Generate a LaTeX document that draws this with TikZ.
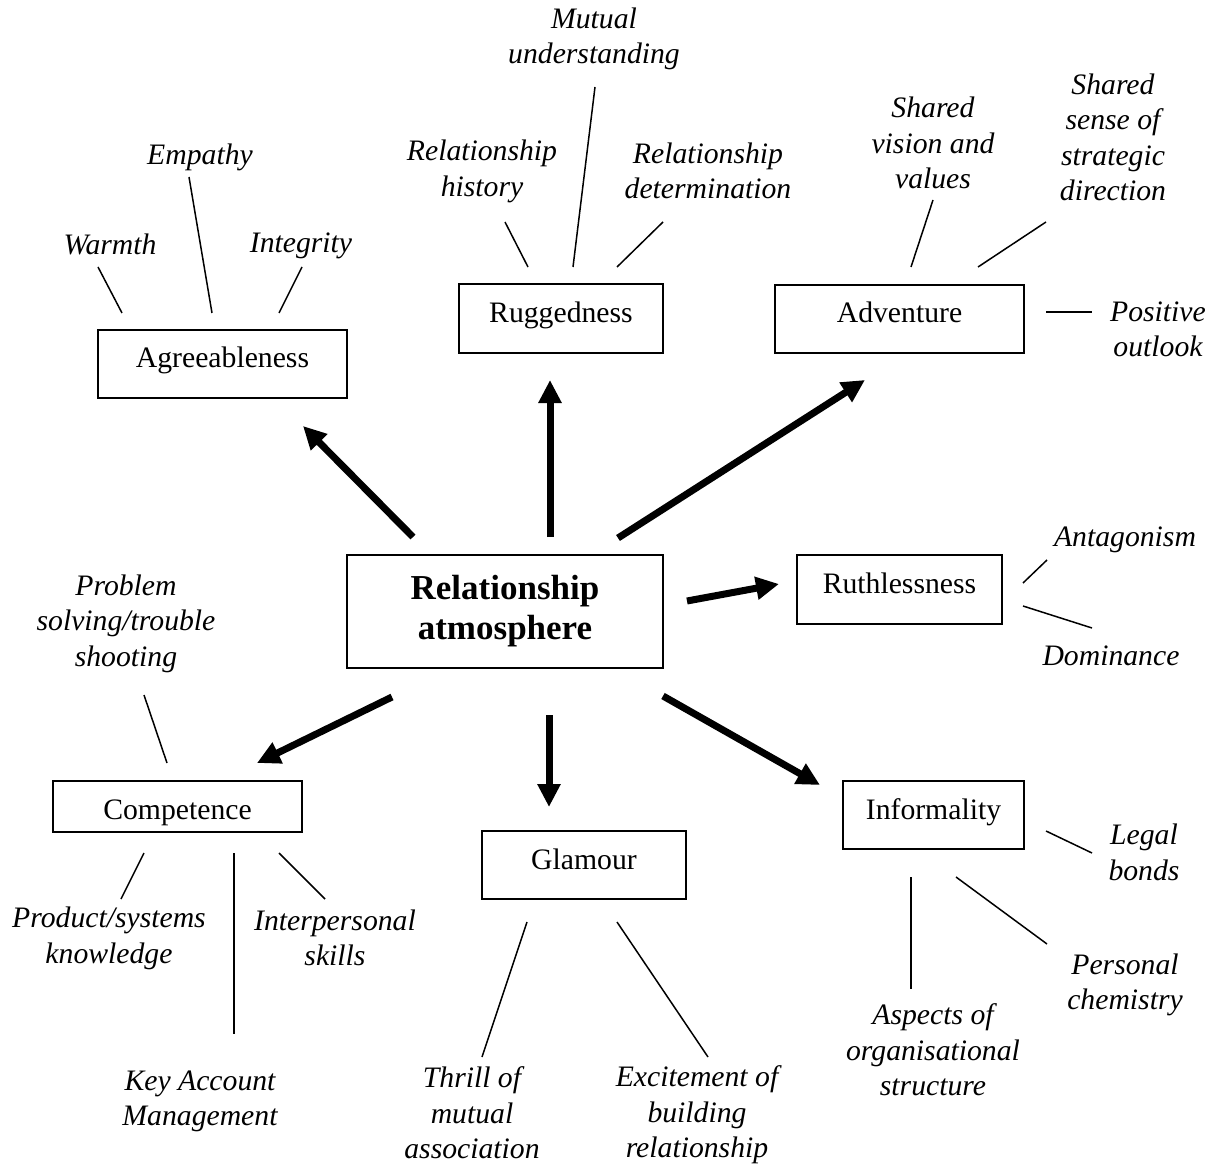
\documentclass[tikz,border=0pt]{standalone}
\usepackage{fontspec}
\setmainfont{Liberation Serif}
\usetikzlibrary{arrows.meta}
\begin{document}
\begin{tikzpicture}[x=1pt,y=-1pt,
  box/.style={draw, line width=1.8pt, inner sep=0pt,
    font=\fontsize{29.7}{35.5}\selectfont, text height=20pt, text depth=12pt},
  core/.style={draw, line width=1.8pt, inner sep=0pt, align=center,
    font=\fontsize{35}{40}\selectfont\bfseries},
  trait/.style={inner sep=0pt, align=center,
    font=\fontsize{29.7}{35.5}\selectfont\itshape},
  leader/.style={line width=1.5pt},
  push/.style={line width=7pt, -{Triangle[length=23pt,width=22pt]}}]
\useasboundingbox (0,0) rectangle (1224,1166);

% ---- dimension boxes ----
\node[core, minimum width=316pt, minimum height=113pt] (core) at (505,611.5) {Relationship\\atmosphere};
\node[box, minimum width=249pt, minimum height=68pt] (agr)  at (222.5,364) {Agreeableness};
\node[box, minimum width=204pt, minimum height=69pt] (rug)  at (561,318.5) {Ruggedness};
\node[box, minimum width=249pt, minimum height=68pt] (adv)  at (899.5,319) {Adventure};
\node[box, minimum width=205pt, minimum height=69pt] (ruth) at (899.5,589.5) {Ruthlessness};
\node[box, minimum width=249pt, minimum height=51pt, text height=25pt, text depth=0pt] (comp) at (177.5,806.5) {Competence};
\node[box, minimum width=204pt, minimum height=68pt] (glam) at (584,865) {Glamour};
\node[box, minimum width=181pt, minimum height=68pt] (inf)  at (933.5,815) {Informality};

% ---- attribute labels ----
\node[trait] (warm) at (110,244) {Warmth};
\node[trait] (emp)  at (200,157.5) {Empathy};
\node[trait] (integ) at (301,245.5) {Integrity};
\node[trait] (mutu) at (594,39) {Mutual\\understanding};
\node[trait] (hist) at (482,171.5) {Relationship\\history};
\node[trait] (deter) at (708,171) {Relationship\\determination};
\node[trait] (vis)  at (933,143) {Shared\\vision and\\values};
\node[trait] (sens) at (1113,137.5) {Shared\\sense of\\strategic\\direction};
\node[trait] (posi) at (1158,329.5) {Positive\\outlook};
\node[trait] (anta) at (1125,540) {Antagonism};
\node[trait] (domi) at (1111,656) {Dominance};
\node[trait] (prob) at (126,623.5) {Problem\\solving/trouble\\shooting};
\node[trait] (prod) at (109,938.5) {Product/systems\\knowledge};
\node[trait] (inter) at (335,938) {Interpersonal\\skills};
\node[trait] (kam)  at (200,1101.5) {Key Account\\Management};
\node[trait] (thri) at (472,1113) {Thrill of\\mutual\\association};
\node[trait] (exci) at (697,1115) {Excitement of\\building\\relationship};
\node[trait] (legal) at (1144,852.5) {Legal\\bonds};
\node[trait] (pers) at (1125,985) {Personal\\chemistry};
\node[trait] (asp)  at (933,1050) {Aspects of\\organisational\\structure};

% ---- arrow ends ----
\coordinate (a-agr0) at (413,537);  \coordinate (a-agr1) at (303,426);
\coordinate (a-rug0) at (550,537);  \coordinate (a-rug1) at (550,380);
\coordinate (a-adv0) at (618,538);  \coordinate (a-adv1) at (865,380);
\coordinate (a-ruth0) at (687,601); \coordinate (a-ruth1) at (779,584);
\coordinate (a-inf0) at (663,696);  \coordinate (a-inf1) at (820,785);
\coordinate (a-glam0) at (549,715); \coordinate (a-glam1) at (549,807);
\coordinate (a-comp0) at (392,697); \coordinate (a-comp1) at (257,763);

\draw[push] (a-agr0) -- (a-agr1);
\draw[push] (a-rug0) -- (a-rug1);
\draw[push] (a-adv0) -- (a-adv1);
\draw[push] (a-ruth0) -- (a-ruth1);
\draw[push] (a-inf0) -- (a-inf1);
\draw[push] (a-glam0) -- (a-glam1);
\draw[push] (a-comp0) -- (a-comp1);

% ---- leader line ends ----
\coordinate (l-warm0) at (98,267);   \coordinate (l-warm1) at (122,313);
\coordinate (l-emp0) at (189,177);   \coordinate (l-emp1) at (212,313);
\coordinate (l-int0) at (302,267);   \coordinate (l-int1) at (279,313);
\coordinate (l-hist0) at (505,222);  \coordinate (l-hist1) at (528,267);
\coordinate (l-mut0) at (595,87);    \coordinate (l-mut1) at (573,267);
\coordinate (l-det0) at (663,222);   \coordinate (l-det1) at (617,267);
\coordinate (l-vis0) at (933,200);   \coordinate (l-vis1) at (911,267);
\coordinate (l-sen0) at (1046,222);  \coordinate (l-sen1) at (978,267);
\coordinate (l-pos0) at (1046,312);  \coordinate (l-pos1) at (1092,312);
\coordinate (l-ant0) at (1047,560);  \coordinate (l-ant1) at (1023,583);
\coordinate (l-dom0) at (1023,606);  \coordinate (l-dom1) at (1092,628);
\coordinate (l-prob0) at (144,695);  \coordinate (l-prob1) at (167,763);
\coordinate (l-prod0) at (144,853);  \coordinate (l-prod1) at (121,899);
\coordinate (l-kam0) at (234,853);   \coordinate (l-kam1) at (234,1034);
\coordinate (l-int2) at (279,853);   \coordinate (l-int3) at (325,899);
\coordinate (l-thr0) at (527,922);   \coordinate (l-thr1) at (482,1057);
\coordinate (l-exc0) at (617,922);   \coordinate (l-exc1) at (708,1057);
\coordinate (l-leg0) at (1046,831);  \coordinate (l-leg1) at (1092,853);
\coordinate (l-per0) at (956,877);   \coordinate (l-per1) at (1047,944);
\coordinate (l-asp0) at (911,877);   \coordinate (l-asp1) at (911,989);

\draw[leader] (l-warm0) -- (l-warm1);
\draw[leader] (l-emp0) -- (l-emp1);
\draw[leader] (l-int0) -- (l-int1);
\draw[leader] (l-hist0) -- (l-hist1);
\draw[leader] (l-mut0) -- (l-mut1);
\draw[leader] (l-det0) -- (l-det1);
\draw[leader] (l-vis0) -- (l-vis1);
\draw[leader] (l-sen0) -- (l-sen1);
\draw[leader] (l-pos0) -- (l-pos1);
\draw[leader] (l-ant0) -- (l-ant1);
\draw[leader] (l-dom0) -- (l-dom1);
\draw[leader] (l-prob0) -- (l-prob1);
\draw[leader] (l-prod0) -- (l-prod1);
\draw[leader] (l-kam0) -- (l-kam1);
\draw[leader] (l-int2) -- (l-int3);
\draw[leader] (l-thr0) -- (l-thr1);
\draw[leader] (l-exc0) -- (l-exc1);
\draw[leader] (l-leg0) -- (l-leg1);
\draw[leader] (l-per0) -- (l-per1);
\draw[leader] (l-asp0) -- (l-asp1);
\end{tikzpicture}
\end{document}
